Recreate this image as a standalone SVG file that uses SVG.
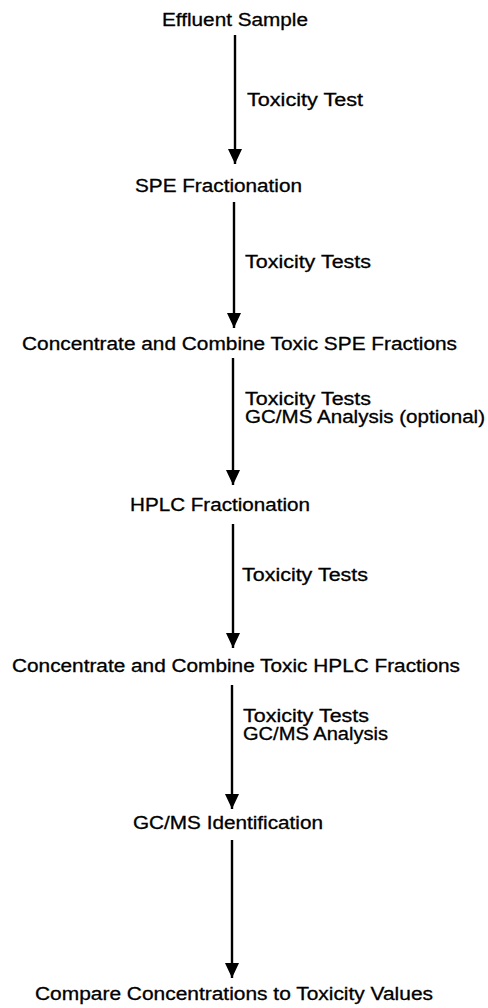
<svg xmlns="http://www.w3.org/2000/svg" width="488" height="1008" viewBox="0 0 488 1008">
  <style>
    text { font-family: "Liberation Sans", Arial, sans-serif; font-size: 18px; fill: #000; stroke: #000; stroke-width: 0.3px; }
    .edge { stroke: #000; stroke-width: 2.4; fill: none; marker-end: url(#arrow); }
  </style>
  <defs>
    <marker id="arrow" markerUnits="userSpaceOnUse" markerWidth="16" markerHeight="16" viewBox="0 0 16 16" refX="15" refY="8" orient="auto">
      <path d="M0,1 L15,8 L0,15 Z" fill="#000"/>
    </marker>
  </defs>
  <rect width="488" height="1008" fill="#fff"/>
  <g id="connectors">
    <line class="edge" x1="235" y1="35" x2="235" y2="164"/>
    <text x="247" y="106" textLength="116" lengthAdjust="spacingAndGlyphs">Toxicity Test</text>
    <line class="edge" x1="234" y1="202" x2="234" y2="328"/>
    <text x="245" y="268" textLength="126" lengthAdjust="spacingAndGlyphs">Toxicity Tests</text>
    <line class="edge" x1="233" y1="358" x2="233" y2="485"/>
    <text x="245" y="405" textLength="126" lengthAdjust="spacingAndGlyphs">Toxicity Tests</text>
    <text x="245" y="423" textLength="240" lengthAdjust="spacingAndGlyphs">GC/MS Analysis (optional)</text>
    <line class="edge" x1="233" y1="524" x2="233" y2="648"/>
    <text x="242" y="581" textLength="126" lengthAdjust="spacingAndGlyphs">Toxicity Tests</text>
    <line class="edge" x1="232" y1="685" x2="232" y2="809"/>
    <text x="243" y="722" textLength="126" lengthAdjust="spacingAndGlyphs">Toxicity Tests</text>
    <text x="243" y="740" textLength="145" lengthAdjust="spacingAndGlyphs">GC/MS Analysis</text>
    <line class="edge" x1="232" y1="840" x2="232" y2="978"/>
  </g>
  <g id="effluent-sample"><text x="162" y="26" textLength="146" lengthAdjust="spacingAndGlyphs">Effluent Sample</text></g>
  <g id="spe-fractionation"><text x="135" y="192" textLength="167" lengthAdjust="spacingAndGlyphs">SPE Fractionation</text></g>
  <g id="concentrate-spe"><text x="22" y="350" textLength="435" lengthAdjust="spacingAndGlyphs">Concentrate and Combine Toxic SPE Fractions</text></g>
  <g id="hplc-fractionation"><text x="130" y="511" textLength="180" lengthAdjust="spacingAndGlyphs">HPLC Fractionation</text></g>
  <g id="concentrate-hplc"><text x="12" y="672" textLength="448" lengthAdjust="spacingAndGlyphs">Concentrate and Combine Toxic HPLC Fractions</text></g>
  <g id="gcms-identification"><text x="133" y="829" textLength="190" lengthAdjust="spacingAndGlyphs">GC/MS Identification</text></g>
  <g id="compare"><text x="35" y="1000" textLength="398" lengthAdjust="spacingAndGlyphs">Compare Concentrations to Toxicity Values</text></g>
</svg>
